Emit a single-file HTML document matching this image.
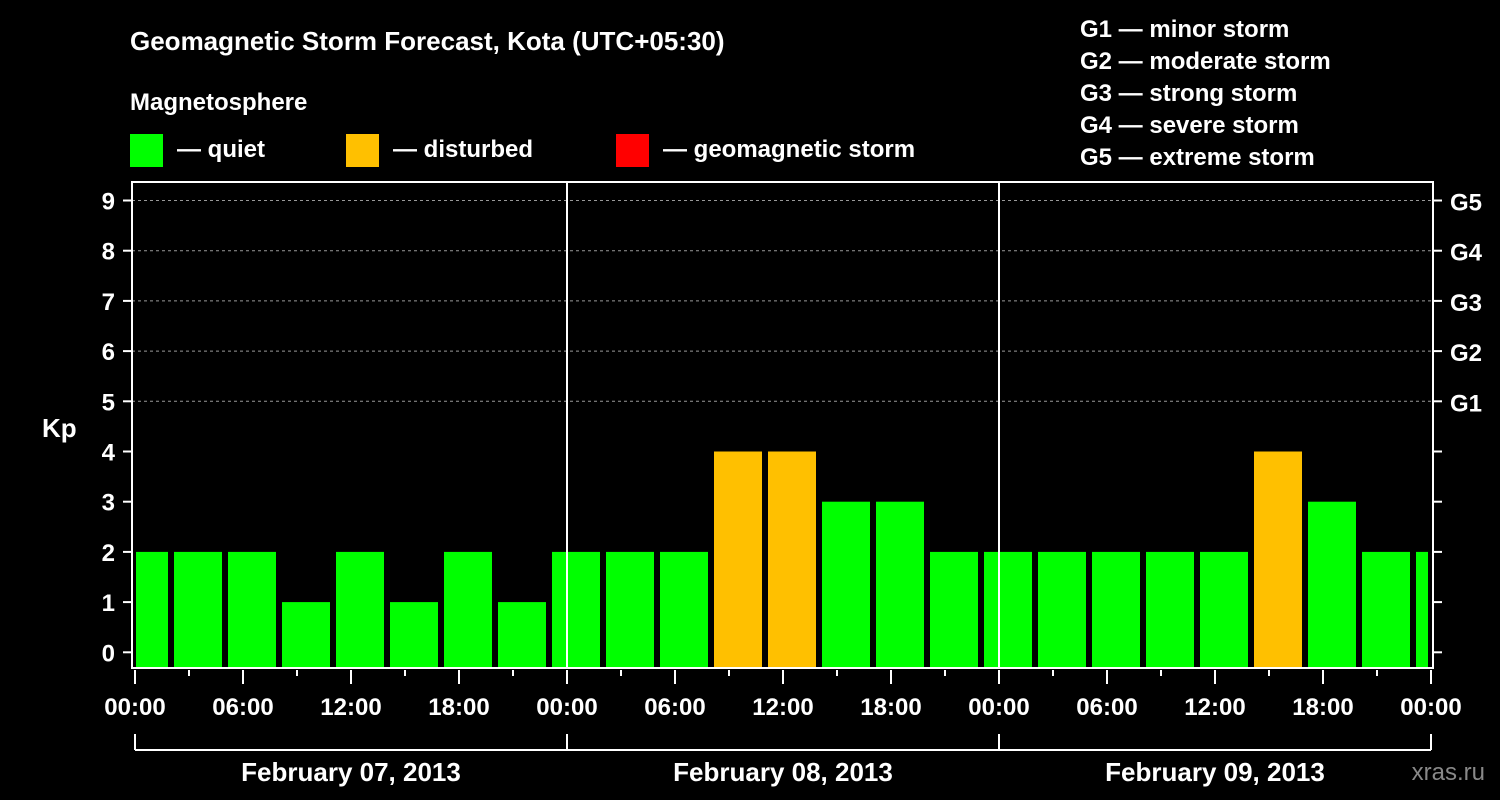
<!DOCTYPE html>
<html><head><meta charset="utf-8"><style>
html,body{margin:0;padding:0;background:#000;}
svg{display:block;font-family:"Liberation Sans",Arial,sans-serif;font-weight:bold;}
</style></head><body>
<svg id="chart" width="1500" height="800" viewBox="0 0 1500 800" xmlns="http://www.w3.org/2000/svg">
<rect width="1500" height="800" fill="#000"/>
<text x="130" y="50" fill="#fff" font-size="26">Geomagnetic Storm Forecast, Kota (UTC+05:30)</text>
<text x="130" y="110" fill="#fff" font-size="24">Magnetosphere</text>
<g><rect x="130" y="134" width="33" height="33" fill="#00ff00"/><text x="177" y="157" fill="#fff" font-size="24">— quiet</text></g>
<g><rect x="346" y="134" width="33" height="33" fill="#ffc000"/><text x="393" y="157" fill="#fff" font-size="24">— disturbed</text></g>
<g><rect x="616" y="134" width="33" height="33" fill="#ff0000"/><text x="663" y="157" fill="#fff" font-size="24">— geomagnetic storm</text></g>
<g fill="#fff" font-size="24">
<text x="1080" y="37">G1 — minor storm</text>
<text x="1080" y="69">G2 — moderate storm</text>
<text x="1080" y="101">G3 — strong storm</text>
<text x="1080" y="133">G4 — severe storm</text>
<text x="1080" y="165">G5 — extreme storm</text>
</g>
<text x="42" y="437" fill="#fff" font-size="26">Kp</text>
<text x="1485" y="780" fill="#888" font-size="24" text-anchor="end" font-weight="normal">xras.ru</text>
<defs><clipPath id="pc"><rect x="136" y="180" width="1292" height="488"/></clipPath></defs>
<g id="grid"></g>
<g id="bars" clip-path="url(#pc)"></g>
<g id="axes"></g>
</svg>
<script>
const barStartHours=[-1,2,5,8,11,14,17,20,23,26,29,32,35,38,41,44,47,50,53,56,59,62,65,68,71];
const kpValues=[2,2,2,1,2,1,2,1,2,2,2,4,4,3,3,2,2,2,2,2,2,4,3,2,2];
const yTicks=[0,1,2,3,4,5,6,7,8,9];
const gLabels=["G1","G2","G3","G4","G5"];
const hourLabels=["00:00","06:00","12:00","18:00","00:00","06:00","12:00","18:00","00:00","06:00","12:00","18:00","00:00"];
const dayLabels=["February 07, 2013","February 08, 2013","February 09, 2013"];

const NS="http://www.w3.org/2000/svg";
const x0=135,pxh=18,y0=652.3,pxk=50.2,plotTop=182,plotBottom=668,plotLeft=132,plotRight=1433;
const xs=h=>x0+h*pxh, ys=k=>y0-k*pxk;
function mk(tag,attrs,parent){const e=document.createElementNS(NS,tag);for(const k in attrs)e.setAttribute(k,attrs[k]);parent.appendChild(e);return e;}
const grid=document.getElementById('grid'),bars=document.getElementById('bars'),axes=document.getElementById('axes');
// grid lines for G levels
gLabels.forEach((g,i)=>{const y=ys(5+i);
 const l=mk('line',{x1:plotLeft,x2:plotRight,y1:y,y2:y,stroke:'#999','stroke-dasharray':'3,3','stroke-width':1},grid);
 
 
 const t=mk('text',{x:1450,y:y+10,fill:'#fff','font-size':24},axes);t.textContent=g;
 
 
});
// bars
kpValues.forEach((v,i)=>{const h=barStartHours[i];const x=xs(h)+3,w=3*pxh-6,y=ys(v);
 const r=mk('rect',{x:x,y:y,width:w,height:plotBottom-y,fill:v>=5?'#ff0000':(v>=4?'#ffc000':'#00ff00')},bars);
 
 
});
// frame
const fr=mk('rect',{x:plotLeft,y:plotTop,width:plotRight-plotLeft,height:plotBottom-plotTop,fill:'none',stroke:'#fff','stroke-width':2},axes);


// day separators
[24,48].forEach(h=>{const l=mk('line',{x1:xs(h),x2:xs(h),y1:plotTop,y2:plotBottom,stroke:'#fff','stroke-width':2},axes);
 
 });
// y ticks
yTicks.forEach(k=>{const y=ys(k);
 mk('line',{x1:plotLeft-9,x2:plotLeft,y1:y,y2:y,stroke:'#fff','stroke-width':2},axes);
 mk('line',{x1:plotRight,x2:plotRight+9,y1:y,y2:y,stroke:'#fff','stroke-width':2},axes);
 const t=mk('text',{x:115,y:y+9,fill:'#fff','font-size':24,'text-anchor':'end'},axes);t.textContent=k;
 
 
});
// x ticks
for(let h=0;h<=72;h+=3){const x=xs(h);const major=h%6===0;
 mk('line',{x1:x,x2:x,y1:plotBottom+2,y2:plotBottom+(major?16:8),stroke:'#fff','stroke-width':2},axes);}
hourLabels.forEach((lab,i)=>{const t=mk('text',{x:xs(i*6),y:715,fill:'#fff','font-size':24,'text-anchor':'middle'},axes);t.textContent=lab;
 
 });
// day bracket
mk('line',{x1:xs(0),x2:xs(72),y1:750,y2:750,stroke:'#fff','stroke-width':2},axes);
[0,24,48,72].forEach(h=>mk('line',{x1:xs(h),x2:xs(h),y1:734,y2:750,stroke:'#fff','stroke-width':2},axes));
dayLabels.forEach((d,i)=>{const t=mk('text',{x:xs(i*24+12),y:781,fill:'#fff','font-size':26,'text-anchor':'middle'},axes);t.textContent=d;
 
 });
</script>
</body></html>
